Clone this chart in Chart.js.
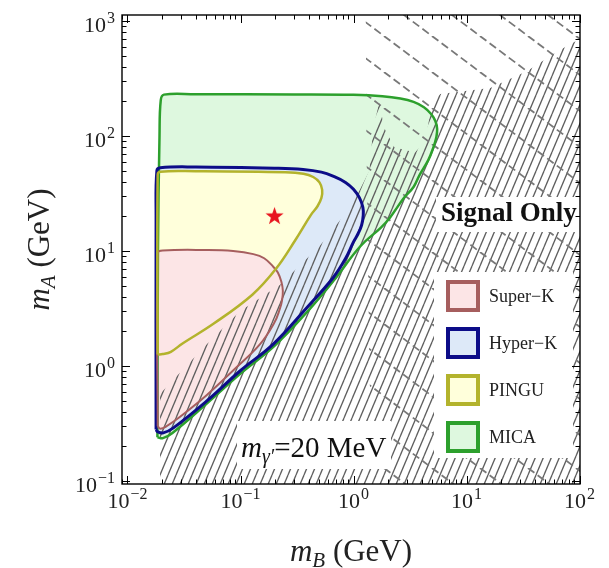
<!DOCTYPE html>
<html>
<head>
<meta charset="utf-8">
<script src="https://cdn.jsdelivr.net/npm/chart.js@4.4.0/dist/chart.umd.min.js"></script>
<style>
  html, body { margin: 0; padding: 0; background: #fff; }
</style>
</head>
<body>
<canvas id="myChart" width="609" height="568"></canvas>
<script>
// axis ranges (GeV), the frame sits a little outside the decades
var X_MIN = 0.00894, X_MAX = 101;
var Y_MIN = 0.0942, Y_MAX = 1128;

var xTicks = [0.01, 0.1, 1, 10, 100];
var xTickExp = ['\u22122', '\u22121', '0', '1', '2'];
var yTicks = [0.1, 1, 10, 100, 1000];
var yTickExp = ['\u22121', '0', '1', '2', '3'];

// sensitivity regions, [mB, mA] in GeV
var superK = [[0.0185,0.30],[0.0185,9.6],[0.0205,10.1],[0.05,10.2],[0.086,10.0],[0.13,9.4],[0.162,8.65],[0.195,7.3],[0.214,6.5],[0.23,5.4],[0.237,4.5],[0.233,3.7],[0.222,3.1],[0.2,2.4],[0.149,1.55],[0.0865,0.92],[0.0504,0.56],[0.029,0.36],[0.0222,0.30],[0.0195,0.285]];
var hyperK = [[0.0179,0.28],[0.0179,20],[0.0182,50],[0.0195,53],[0.04,53.8],[0.2,52.5],[0.358,51.2],[0.52,48.5],[0.675,44.3],[0.85,39.5],[1.0,34.4],[1.13,29],[1.21,24],[1.22,20.5],[1.18,16.8],[1.1,14.2],[1.0,12.0],[0.85,8.6],[0.66,5.86],[0.386,3.21],[0.195,1.55],[0.099,0.905],[0.0504,0.497],[0.0255,0.29],[0.0207,0.262],[0.0185,0.268]];
var pingu = [[0.0185,1.26],[0.0185,46],[0.0195,49],[0.04,49.5],[0.25,48.5],[0.36,47],[0.44,44],[0.5,39.5],[0.528,34],[0.52,29],[0.48,24.5],[0.42,20.6],[0.305,12.4],[0.206,7.0],[0.128,4.19],[0.058,2.34],[0.0307,1.57],[0.0242,1.33],[0.0205,1.27]];
var mica = [[0.0184,0.24],[0.0186,10],[0.0192,100],[0.0197,205],[0.021,229],[0.04,231],[0.3,230],[1.0,228],[1.8,222],[2.6,212],[3.4,198],[4.2,178],[4.84,156],[5.3,135],[5.5,115],[5.4,97],[5.1,80],[4.6,62],[3.85,46],[3.4,36],[2.8,29],[2.1,19.5],[1.75,16.0],[1.15,11.0],[0.66,5.45],[0.4,3.05],[0.2,1.5],[0.1,0.86],[0.05,0.47],[0.025,0.262],[0.0206,0.236]];

// excluded regions (hatched)
var hatchSolid = [[0.0194,0.05],[0.0194,0.57],[0.0503,1.55],[0.099,3.0],[0.224,5.1],[0.5,11],[0.79,19.4],[1.1,32],[1.38,49.6],[1.5,120],[1.7,200],[1.85,120],[2.3,80],[3.5,72],[4.3,90],[5.0,200],[5.86,232],[16.2,261],[34.5,367],[58.6,516],[83,631],[130,790],[130,0.05]];
var hatchDashed = [[1.28,2000],[1.3,100],[1.38,1],[1.5,0.05],[130,0.05],[130,2000]];

var benchmark = [[0.2, 20]];

var legendLabels = ['Super\u2212K', 'Hyper\u2212K', 'PINGU', 'MICA'];

var SERIF = '"Liberation Serif", "DejaVu Serif", serif';

var styles = {
  superK: { line: '#a65e5e', fill: '#fce5e6', width: 2 },
  hyperK: { line: '#0c0c88', fill: '#dde9f8', width: 3 },
  pingu:  { line: '#b3b32c', fill: '#ffffdb', width: 2.5 },
  mica:   { line: '#2da02d', fill: '#def8df', width: 2.5 }
};

function pts(a) {
  var o = a.map(function (p) { return { x: p[0], y: p[1] }; });
  o.push({ x: a[0][0], y: a[0][1] });
  return o;
}

function makeHatch(w, h, dir, color, lw, dash) {
  var c = document.createElement('canvas');
  c.width = w; c.height = h;
  var g = c.getContext('2d');
  g.strokeStyle = color;
  g.lineWidth = lw;
  if (dash) g.setLineDash(dash);
  for (var k = -1; k <= 1; k++) {
    g.beginPath();
    if (dir > 0) { g.moveTo(k * w, h); g.lineTo(k * w + w, 0); }
    else { g.moveTo(k * w, 0); g.lineTo(k * w + w, h); }
    g.stroke();
  }
  return g.createPattern(c, 'repeat');
}

function makeStar(r, color) {
  var s = Math.ceil(r * 2 + 2);
  var c = document.createElement('canvas');
  c.width = s; c.height = s;
  var g = c.getContext('2d');
  g.fillStyle = color;
  g.beginPath();
  for (var i = 0; i < 10; i++) {
    var rad = i % 2 ? r * 0.4 : r;
    var a = -Math.PI / 2 + i * Math.PI / 5;
    g.lineTo(s / 2 + rad * Math.cos(a), s / 2 + rad * Math.sin(a));
  }
  g.closePath();
  g.fill();
  return c;
}

var regions = [
  { key: 'mica', data: mica, fo: 20, lo: 10 },
  { key: 'hyperK', data: hyperK, fo: 19, lo: 9 },
  { key: 'pingu', data: pingu, fo: 18, lo: 7 },
  { key: 'superK', data: superK, fo: 17, lo: 8 }
];

var ds = [];
regions.forEach(function (r) {
  var st = styles[r.key];
  ds.push({ data: pts(r.data), showLine: true, fill: 'shape', backgroundColor: st.fill,
    borderColor: 'rgba(0,0,0,0)', borderWidth: 0, pointRadius: 0, tension: 0.4, order: r.fo });
  ds.push({ data: pts(r.data), showLine: true, fill: false, borderColor: st.line,
    borderWidth: st.width, borderJoinStyle: 'round', pointRadius: 0, tension: 0.4, order: r.lo });
});
ds.push({ data: pts(hatchSolid), showLine: true, fill: 'shape',
  backgroundColor: makeHatch(8, 19, 1, '#5e5e5e', 1.3),
  borderColor: 'rgba(0,0,0,0)', borderWidth: 0, pointRadius: 0, tension: 0, order: 15 });
ds.push({ data: pts(hatchDashed), showLine: true, fill: 'shape',
  backgroundColor: makeHatch(48, 36, -1, '#787878', 1.8, [8, 4]),
  borderColor: 'rgba(0,0,0,0)', borderWidth: 0, pointRadius: 0, tension: 0, order: 14 });
ds.push({ data: benchmark.map(function (p) { return { x: p[0], y: p[1] }; }),
  showLine: false, pointStyle: makeStar(9.5, '#e8141e'), pointRadius: 10, order: 0 });

function runsWidth(ctx, runs) {
  var w = 0;
  runs.forEach(function (r) { ctx.font = r.f; w += ctx.measureText(r.t).width + (r.gap || 0); });
  return w;
}
function drawRuns(ctx, runs, x, y, align) {
  var w = runsWidth(ctx, runs);
  var cx = align === 'center' ? x - w / 2 : (align === 'right' ? x - w : x);
  ctx.textAlign = 'left';
  ctx.textBaseline = 'alphabetic';
  runs.forEach(function (r) {
    ctx.font = r.f;
    ctx.fillText(r.t, cx, y + (r.dy || 0));
    cx += ctx.measureText(r.t).width + (r.gap || 0);
  });
}
function powRuns(exp) {
  return [{ t: '10', f: '22px ' + SERIF, gap: 1 }, { t: exp, f: '16px ' + SERIF, dy: -9 }];
}

var decor = {
  id: 'decor',
  afterDatasetsDraw: function (chart) {
    var ctx = chart.ctx, a = chart.chartArea;
    var xs = chart.scales.x, ys = chart.scales.y;
    ctx.save();

    // white boxes behind the labels
    ctx.fillStyle = '#fff';
    ctx.fillRect(436, 197, a.right - 436, 35);
    ctx.fillRect(237, 421, 154, 48);
    ctx.fillRect(434, 272, 139, 186);

    ctx.fillStyle = '#111';
    drawRuns(ctx, [{ t: 'Signal Only', f: 'bold 27px ' + SERIF }], 441, 221, 'left');
    drawRuns(ctx, [
      { t: 'm', f: 'italic 29px ' + SERIF },
      { t: '\u03b3\u2032', f: 'italic 20px ' + SERIF, dy: 6 },
      { t: '=20 MeV', f: '29px ' + SERIF }
    ], 241, 457, 'left');

    // legend
    var order = ['superK', 'hyperK', 'pingu', 'mica'];
    legendLabels.forEach(function (lab, i) {
      var st = styles[order[i]];
      var top = 280 + i * 47;
      ctx.fillStyle = st.fill;
      ctx.fillRect(448, top + 2, 30, 28);
      ctx.strokeStyle = st.line;
      ctx.lineWidth = 4;
      ctx.strokeRect(448, top + 2, 30, 28);
      ctx.fillStyle = '#222';
      drawRuns(ctx, [{ t: lab, f: '18px ' + SERIF }], 489, top + 22, 'left');
    });

    // frame
    ctx.strokeStyle = '#000';
    ctx.lineWidth = 1.4;
    ctx.strokeRect(a.left, a.top, a.right - a.left, a.bottom - a.top);

    // inward ticks on all four sides
    ctx.lineWidth = 1;
    ctx.beginPath();
    [0.001, 0.01, 0.1, 1, 10, 100, 1000].forEach(function (d) {
      for (var m = 1; m <= 9; m++) {
        var v = m * d, len = m === 1 ? 8 : 4.5;
        if (v >= X_MIN && v <= X_MAX) {
          var px = Math.round(xs.getPixelForValue(v)) + 0.5;
          ctx.moveTo(px, a.bottom); ctx.lineTo(px, a.bottom - len);
          ctx.moveTo(px, a.top); ctx.lineTo(px, a.top + len);
        }
        if (v >= Y_MIN && v <= Y_MAX) {
          var py = Math.round(ys.getPixelForValue(v)) + 0.5;
          ctx.moveTo(a.left, py); ctx.lineTo(a.left + len, py);
          ctx.moveTo(a.right, py); ctx.lineTo(a.right - len, py);
        }
      }
    });
    ctx.stroke();

    // tick labels
    ctx.fillStyle = '#222';
    xTicks.forEach(function (v, i) {
      drawRuns(ctx, powRuns(xTickExp[i]), xs.getPixelForValue(v), 508, 'center');
    });
    yTicks.forEach(function (v, i) {
      drawRuns(ctx, powRuns(yTickExp[i]), 115, ys.getPixelForValue(v) + 11, 'right');
    });

    // axis titles
    drawRuns(ctx, [
      { t: 'm', f: 'italic 31px ' + SERIF },
      { t: 'B', f: 'italic 21px ' + SERIF, dy: 6 },
      { t: ' (GeV)', f: '31px ' + SERIF }
    ], (a.left + a.right) / 2, 561, 'center');
    ctx.translate(49, (a.top + a.bottom) / 2);
    ctx.rotate(-Math.PI / 2);
    drawRuns(ctx, [
      { t: 'm', f: 'italic 31px ' + SERIF },
      { t: 'A', f: 'italic 21px ' + SERIF, dy: 6 },
      { t: ' (GeV)', f: '31px ' + SERIF }
    ], 0, 0, 'center');
    ctx.restore();
  }
};

var ctx = document.getElementById('myChart').getContext('2d');
var chart = new Chart(ctx, {
  type: 'scatter',
  data: { datasets: ds },
  options: {
    responsive: false,
    animation: false,
    devicePixelRatio: 1,
    events: [],
    layout: { padding: { left: 122, right: 29, top: 15, bottom: 84 } },
    plugins: { legend: { display: false }, tooltip: { enabled: false } },
    scales: {
      x: { type: 'logarithmic', min: X_MIN, max: X_MAX, display: false },
      y: { type: 'logarithmic', min: Y_MIN, max: Y_MAX, display: false }
    }
  },
  plugins: [decor]
});
</script>
</body>
</html>
